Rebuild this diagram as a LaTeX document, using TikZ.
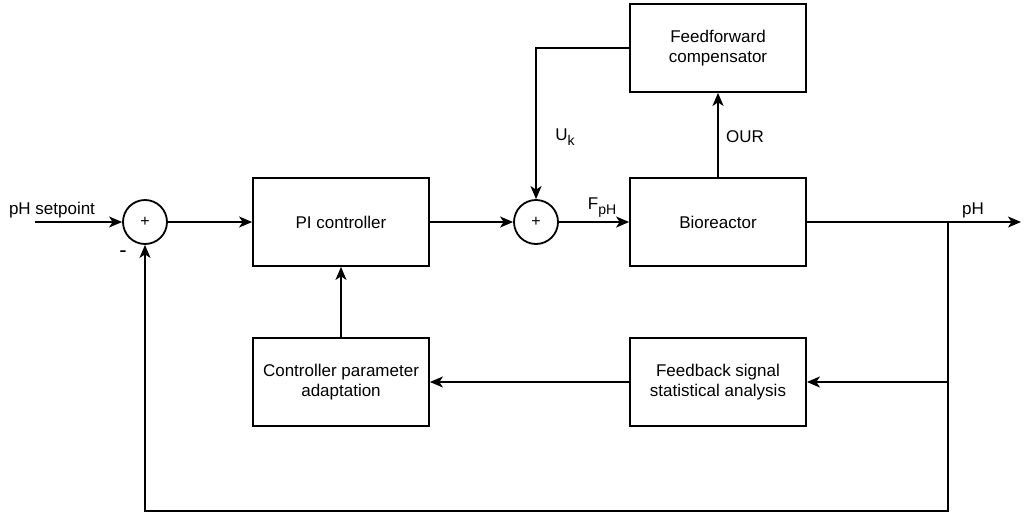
\documentclass[tikz,border=0pt]{standalone}
\usepackage{fontspec}
\setmainfont{Liberation Sans}
\usetikzlibrary{arrows.meta,positioning}

\newcommand{\lowsub}[1]{\raisebox{-5pt}{\fontsize{14}{14}\selectfont #1}}

\tikzset{
  block/.style={draw, minimum width=176pt, minimum height=88pt, align=center,
                inner sep=0pt, font=\fontsize{17}{20}\selectfont},
  sumnode/.style={draw, circle, minimum size=44pt, inner sep=0pt,
                  font=\fontsize{16}{16}\selectfont},
  lbl/.style={font=\fontsize{17}{20}\selectfont}
}

\begin{document}
\begin{tikzpicture}[x=1pt, y=-1pt, line width=1.8pt,
    >={Stealth[length=13pt,width=11pt,inset=3.5pt]}]
  \useasboundingbox (0,0) rectangle (1024,514);

  % blocks
  \node[sumnode] (sum1) at (145,222) {+};
  \node[block] (pi) at (341,222) {PI controller};
  \node[sumnode] (sum2) at (536,222) {+};
  \node[block] (bio) at (718,222) {Bioreactor};
  \node[block] (ff) at (718,48) {Feedforward\\compensator};
  \node[block] (adapt) at (341,382) {Controller parameter\\adaptation};
  \node[block] (fb) at (718,382) {Feedback signal\\statistical analysis};

  \coordinate (in) at (35,222);
  \coordinate (out) at (1021,222);
  \coordinate (split) at (948,222);
  \coordinate (fbsplit) at (948,382);
  \coordinate (bottom) at (948,511);

  % signals
  \draw[->] (in) -- (sum1);
  \draw[->] (sum1) -- (pi);
  \draw[->] (pi) -- (sum2);
  \draw[->] (sum2) -- (bio);
  \draw[->] (bio) -- (out);
  \draw[->] (bio) -- (ff);
  \draw[->] (ff.west) -| (sum2.north);
  \draw[->] (split) -- (bottom) -| (sum1.south);
  \draw[->] (fbsplit) -- (fb.east);
  \draw[->] (fb) -- (adapt);
  \draw[->] (adapt) -- (pi);

  % labels
  \node[lbl] (setpoint) at (52,210) {pH setpoint};
  \node[font=\fontsize{22}{22}\selectfont] (minus) at (123,254) {-};
  \node[lbl] (uk) at (565,137) {U\lowsub{k}};
  \node[lbl] (fph) at (602,208) {F\lowsub{pH}};
  \node[lbl] (our) at (745,137) {OUR};
  \node[lbl] (phout) at (973,210) {pH};
\end{tikzpicture}
\end{document}
